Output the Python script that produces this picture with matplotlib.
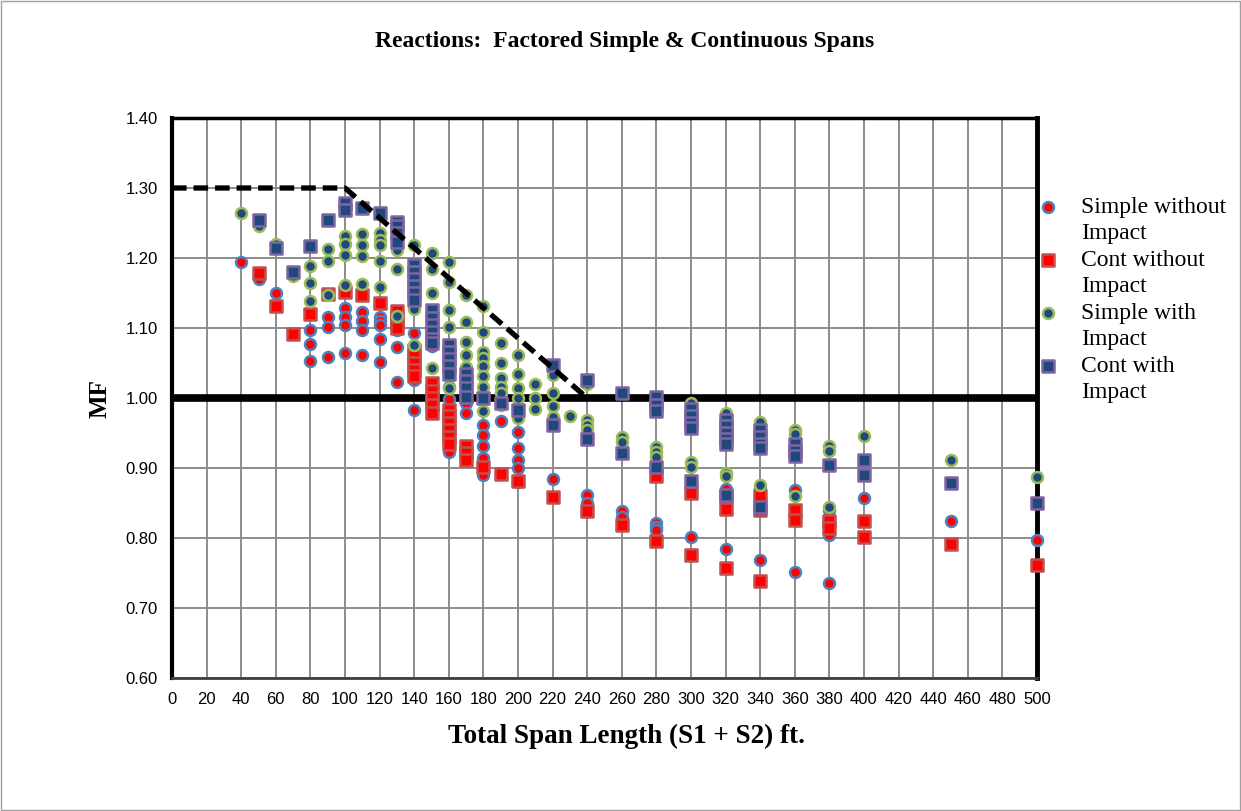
import numpy as np
import matplotlib
matplotlib.use('Agg')
import matplotlib.pyplot as plt
from matplotlib.lines import Line2D
from matplotlib.patches import Rectangle

# Simple without Impact (red circles)
sw_x = [40, 50, 60, 80, 80, 80, 90, 90, 90, 100, 100, 100, 100,
        110, 110, 110, 110, 120, 120, 120, 120, 120, 130, 130, 130, 130,
        140, 140, 140, 150, 150, 160, 160, 160, 160, 170, 170,
        180, 180, 180, 180, 180, 190, 200, 200, 200, 200, 200, 220,
        240, 240, 260, 260, 280, 280, 280, 300, 300, 320, 320, 340, 340,
        360, 360, 360, 380, 380, 380, 400, 450, 500]
sw_y = [1.195, 1.170, 1.150, 1.097, 1.077, 1.053, 1.116, 1.101, 1.058, 1.128, 1.116, 1.104, 1.065,
        1.123, 1.110, 1.097, 1.061, 1.116, 1.110, 1.104, 1.084, 1.052, 1.104, 1.097, 1.073, 1.023,
        1.093, 1.026, 0.983, 1.075, 1.000, 1.016, 0.998, 0.950, 0.923, 0.993, 0.978,
        0.961, 0.947, 0.931, 0.915, 0.890, 0.967, 0.951, 0.928, 0.911, 0.900, 0.880, 0.884,
        0.861, 0.850, 0.839, 0.830, 0.822, 0.816, 0.811, 0.870, 0.802, 0.870, 0.785, 0.870, 0.769,
        0.869, 0.830, 0.752, 0.840, 0.804, 0.736, 0.857, 0.824, 0.797]

# Cont without Impact (red squares)
cw_x = [50, 60, 70, 80, 90, 100, 110, 120, 130, 130, 130, 130,
        140, 140, 140, 140, 140, 150, 150, 150, 150, 150,
        160, 160, 160, 160, 160, 160, 170, 170, 170, 180, 190, 200, 220, 240, 260,
        280, 280, 300, 300, 320, 320, 320, 340, 340, 340, 360, 360, 380, 380,
        400, 400, 450, 500]
cw_y = [1.178, 1.132, 1.092, 1.120, 1.149, 1.152, 1.147, 1.136, 1.125, 1.115, 1.107, 1.100,
        1.069, 1.060, 1.050, 1.040, 1.031, 1.021, 1.010, 1.000, 0.990, 0.978,
        0.983, 0.975, 0.965, 0.955, 0.945, 0.935, 0.931, 0.921, 0.911, 0.901, 0.892, 0.882, 0.859, 0.838, 0.818,
        0.888, 0.796, 0.865, 0.776, 0.860, 0.842, 0.757, 0.860, 0.840, 0.738, 0.840, 0.826, 0.825, 0.814,
        0.825, 0.801, 0.791, 0.762]

# Simple with Impact (navy circles)
si_x = [40, 50, 60, 70, 80, 80, 80, 90, 90, 90, 100, 100, 100, 100,
        110, 110, 110, 110, 120, 120, 120, 120, 120, 130, 130, 130,
        140, 140, 140, 150, 150, 150, 150, 160, 160, 160, 160, 160,
        170, 170, 170, 170, 170, 170, 180, 180, 180, 180, 180, 180, 180, 180,
        190, 190, 190, 190, 190, 190, 200, 200, 200, 200, 200, 210, 210, 210,
        220, 220, 220, 220, 230, 240, 240, 240, 240, 260, 260, 280, 280, 280,
        300, 300, 300, 320, 320, 320, 340, 340, 360, 360, 360, 380, 380, 380,
        400, 450, 500]
si_y = [1.265, 1.245, 1.220, 1.175, 1.188, 1.164, 1.138, 1.213, 1.196, 1.147, 1.232, 1.220, 1.204, 1.161,
        1.234, 1.219, 1.203, 1.163, 1.235, 1.226, 1.219, 1.196, 1.159, 1.211, 1.185, 1.117,
        1.219, 1.127, 1.076, 1.207, 1.185, 1.150, 1.043, 1.195, 1.166, 1.126, 1.102, 1.014,
        1.147, 1.109, 1.080, 1.062, 1.045, 1.002, 1.131, 1.095, 1.066, 1.057, 1.046, 1.031, 1.016, 0.981,
        1.078, 1.050, 1.028, 1.016, 1.007, 0.990, 1.061, 1.035, 1.014, 1.000, 0.971, 1.020, 1.000, 0.984,
        1.033, 1.007, 0.988, 0.973, 0.974, 1.020, 0.969, 0.961, 0.954, 0.944, 0.937, 0.930, 0.923, 0.916,
        0.993, 0.909, 0.902, 0.978, 0.893, 0.888, 0.966, 0.876, 0.954, 0.948, 0.860, 0.931, 0.925, 0.844,
        0.946, 0.912, 0.887]

# Cont with Impact (navy squares)
ci_x = [50, 60, 70, 80, 90, 100, 100, 110, 120, 130, 130, 130, 130,
        140, 140, 140, 140, 140, 140, 150, 150, 150, 150, 150, 150,
        160, 160, 160, 160, 160, 170, 170, 170, 170, 180, 190, 200,
        220, 220, 240, 240, 260, 260, 280, 280, 280, 280,
        300, 300, 300, 300, 300, 320, 320, 320, 320, 320, 320,
        340, 340, 340, 340, 340, 360, 360, 360, 380, 400, 400, 450, 500]
ci_y = [1.255, 1.215, 1.180, 1.217, 1.255, 1.278, 1.269, 1.271, 1.264, 1.252, 1.245, 1.235, 1.223,
        1.190, 1.180, 1.170, 1.160, 1.150, 1.140, 1.126, 1.115, 1.105, 1.095, 1.085, 1.078,
        1.076, 1.066, 1.056, 1.046, 1.035, 1.035, 1.025, 1.015, 1.002, 1.000, 0.993, 0.983,
        1.047, 0.962, 1.026, 0.942, 1.007, 0.921, 1.002, 0.990, 0.981, 0.901,
        0.985, 0.975, 0.965, 0.957, 0.882, 0.969, 0.960, 0.950, 0.942, 0.935, 0.861,
        0.954, 0.945, 0.935, 0.928, 0.844, 0.935, 0.925, 0.917, 0.904, 0.912, 0.890, 0.879, 0.850]

# guide line (dashed)
guide_x = [0, 100, 240]
guide_y = [1.30, 1.30, 1.00]

plt.rcParams['font.family'] = ['Liberation Serif', 'DejaVu Serif']
plt.rcParams['lines.scale_dashes'] = False

fig = plt.figure(figsize=(12.41, 8.11), dpi=100)
ax = fig.add_axes([172 / 1241, 1 - 678 / 811, (1037 - 172) / 1241, (678 - 118) / 811])

ms = 62
ax.scatter(sw_x, sw_y, s=ms, marker='o', facecolor='#FF0000', edgecolor='#4F81BD',
           linewidth=1.8, zorder=3, clip_on=False, label='Simple without Impact')
ax.scatter(cw_x, cw_y, s=ms + 10, marker='s', facecolor='#FF0000', edgecolor='#C0504D',
           linewidth=1.8, zorder=3, clip_on=False, label='Cont without Impact')
ax.scatter(si_x, si_y, s=ms, marker='o', facecolor='#1F497D', edgecolor='#9BBB59',
           linewidth=1.8, zorder=3, clip_on=False, label='Simple with Impact')
ax.scatter(ci_x, ci_y, s=ms + 10, marker='s', facecolor='#1F497D', edgecolor='#8064A2',
           linewidth=1.8, zorder=3, clip_on=False, label='Cont with Impact')

ax.axhline(1.0, color='black', linewidth=5.5, zorder=2)
ax.plot(guide_x, guide_y, color='black', linewidth=3.8, dashes=(10.5, 5), zorder=4)

ax.set_xlim(0, 500)
ax.set_ylim(0.6, 1.4)
ax.set_xticks(np.arange(0, 501, 20))
ax.set_yticks(np.arange(0.6, 1.401, 0.1))
ax.set_yticklabels(['%.2f' % v for v in np.arange(0.6, 1.401, 0.1)])
ax.grid(True, color='#8C8C8C', linewidth=1.4, zorder=0)
ax.set_axisbelow(True)
ax.tick_params(axis='x', length=0, pad=10, labelsize=12)
ax.tick_params(axis='y', length=0, pad=10, labelsize=12)
for lab in ax.get_xticklabels() + ax.get_yticklabels():
    lab.set_fontfamily('Liberation Sans')

for side in ['left', 'top', 'right']:
    ax.spines[side].set_color('black')
ax.spines['left'].set_linewidth(3)
ax.spines['top'].set_linewidth(2.5)
ax.spines['right'].set_linewidth(3.5)
ax.spines['bottom'].set_linewidth(2)
ax.spines['bottom'].set_color('#404040')

ax.set_xlabel('Total Span Length (S1 + S2) ft.', fontsize=19.5, fontweight='bold')
ax.xaxis.set_label_coords((627 - 172) / 865, -(724 - 678) / 560)
ax.set_ylabel('MF', fontsize=18, fontweight='bold')
ax.yaxis.set_label_coords(-(172 - 112) / 865, 0.5)
fig.text(625 / 1241, 1 - 42 / 811, 'Reactions:  Factored Simple & Continuous Spans',
         ha='center', va='center', fontsize=17, fontweight='bold')

# legend: marker on first line, wrapped second line
h = ax.get_legend_handles_labels()[0]
blank = Line2D([], [], linestyle='none', marker='')
handles = [h[0], blank, h[1], blank, h[2], blank, h[3], blank]
labels = ['Simple without', 'Impact', 'Cont without', 'Impact',
          'Simple with', 'Impact', 'Cont with', 'Impact']
fig.legend(handles, labels, loc='upper left', bbox_to_anchor=(1029 / 1241, 1 - 187 / 811),
           frameon=False, fontsize=17, handlelength=0.8, handletextpad=1.0,
           labelspacing=0.21, borderaxespad=0, scatterpoints=1)

fig.patches.append(Rectangle((0.001, 0.001), 0.998, 0.998, transform=fig.transFigure,
                             fill=False, edgecolor='#A0A0A0', linewidth=1))

fig.savefig('out.png', dpi=100)
